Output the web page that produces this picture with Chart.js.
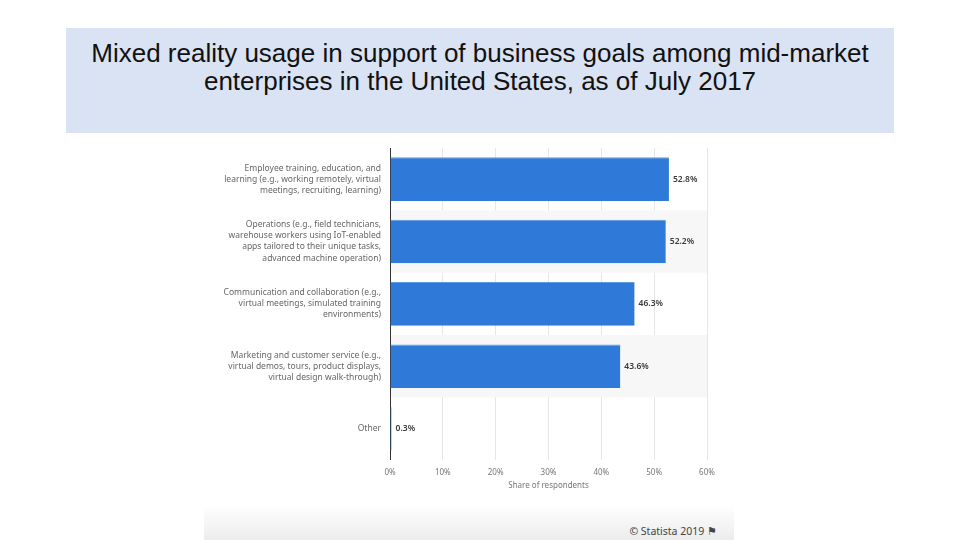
<!DOCTYPE html>
<html>
<head>
<meta charset="utf-8">
<script src="https://cdn.jsdelivr.net/npm/chart.js@4"></script>
<style>
    html, body { margin: 0; padding: 0; background: #ffffff; }
    body { width: 960px; height: 540px; position: relative; overflow: hidden; }
    #titleBox {
        position: absolute; left: 66px; top: 28px; width: 828px; height: 105px;
        background: #dae3f3;
    }
    #title {
        position: absolute; left: 66px; top: 39px; width: 828px;
        text-align: center; font-family: "Liberation Sans", Arial, sans-serif;
        font-size: 26px; line-height: 28px; color: #111;
    }
    #chartBox { position: absolute; left: 204px; top: 133px; width: 530px; height: 372px; background: #fff; }
    #footer {
        position: absolute; left: 204px; top: 505px; width: 530px; height: 35px;
        background: linear-gradient(#ffffff, #ececec);
    }
    #credit {
        position: absolute; right: 17px; bottom: 2px;
        font-family: "Noto Sans", sans-serif; font-size: 10.5px; color: #444;
    }
</style>
</head>
<body>
<div id="titleBox"></div>
<div id="title">Mixed reality usage in support of business goals among mid-market<br>enterprises in the United States, as of July 2017</div>
<div id="chartBox"><canvas id="chart" width="530" height="372"></canvas></div>
<div id="footer"><span id="credit">© Statista 2019 &#9873;</span></div>
<script>
    // Data
    const categories = [
        ['Employee training, education, and', 'learning (e.g., working remotely, virtual', 'meetings, recruiting, learning)'],
        ['Operations (e.g., field technicians,', 'warehouse workers using IoT-enabled', 'apps tailored to their unique tasks,', 'advanced machine operation)'],
        ['Communication and collaboration (e.g.,', 'virtual meetings, simulated training', 'environments)'],
        ['Marketing and customer service (e.g.,', 'virtual demos, tours, product displays,', 'virtual design walk-through)'],
        ['Other']
    ];
    const shares = [52.8, 52.2, 46.3, 43.6, 0.3];
    const xTicks = [0, 10, 20, 30, 40, 50, 60];

    const shadedRows = [1, 3];

    // Light grey bands behind every second row
    const bandPlugin = {
        id: 'bands',
        beforeDatasetsDraw(chart) {
            const { ctx, chartArea, scales } = chart;
            const step = scales.y.getPixelForValue(1) - scales.y.getPixelForValue(0);
            ctx.save();
            ctx.fillStyle = '#f7f7f7';
            shadedRows.forEach(i => {
                const c = scales.y.getPixelForValue(i);
                ctx.fillRect(chartArea.left + 1, c - step / 2, chartArea.right - chartArea.left - 1, step);
            });
            ctx.restore();
        }
    };

    // Value labels after each bar
    const valueLabels = {
        id: 'valueLabels',
        afterDatasetsDraw(chart) {
            const { ctx } = chart;
            const meta = chart.getDatasetMeta(0);
            ctx.save();
            ctx.font = '600 8.5px "Noto Sans", sans-serif';
            ctx.fillStyle = '#3a3a3a';
            ctx.textBaseline = 'middle';
            meta.data.forEach((bar, i) => {
                ctx.fillText(shares[i].toFixed(1) + '%', bar.x + 4, bar.y);
            });
            ctx.restore();
        }
    };

    new Chart(document.getElementById('chart'), {
        type: 'bar',
        data: {
            labels: categories,
            datasets: [{
                data: shares,
                backgroundColor: '#2f79d9',
                borderColor: '#5a9ae6',
                borderWidth: { top: 1, right: 0, bottom: 0, left: 0 },
                categoryPercentage: 0.7,
                barPercentage: 1
            }]
        },
        options: {
            indexAxis: 'y',
            responsive: false,
            animation: false,
            layout: { padding: { top: 15, right: 27, bottom: 14, left: 0 } },
            plugins: { legend: { display: false }, tooltip: { enabled: false } },
            scales: {
                x: {
                    min: 0, max: 60,
                    afterBuildTicks(scale) { scale.ticks = xTicks.map(v => ({ value: v })); },
                    grid: { color: '#e6e6e6', drawTicks: false },
                    border: { display: false },
                    ticks: {
                        padding: 8,
                        color: '#777',
                        font: { family: '"Noto Sans", sans-serif', size: 8 },
                        callback: v => v + '%'
                    },
                    title: {
                        display: true,
                        text: 'Share of respondents',
                        color: '#777',
                        padding: { top: -4, bottom: 0 },
                        font: { family: '"Noto Sans", sans-serif', size: 8 }
                    }
                },
                y: {
                    afterFit(scale) { scale.width = 186; },
                    grid: { display: false, drawTicks: false },
                    border: { display: true, color: '#333', width: 1 },
                    ticks: {
                        padding: 9,
                        color: '#666',
                        font: { family: '"Noto Sans", sans-serif', size: 8.5, lineHeight: 1.3 }
                    }
                }
            }
        },
        plugins: [bandPlugin, valueLabels]
    });
</script>
</body>
</html>
